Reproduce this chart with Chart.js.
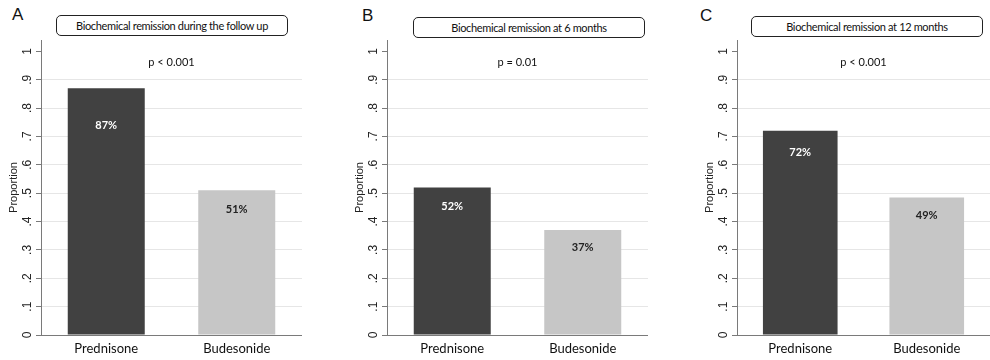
<!DOCTYPE html>
<html>
<head>
<meta charset="utf-8">
<script src="https://cdn.jsdelivr.net/npm/chart.js@4.4.1/dist/chart.umd.min.js"></script>
<style>
  html, body { margin: 0; padding: 0; background: #fff; }
  #wrap { position: relative; width: 990px; height: 360px; overflow: hidden; }
  .letter { position: absolute; font-family: "Liberation Sans", Arial, sans-serif; font-size: 17px; line-height: 17px; color: #111; }
  .tbox { position: absolute; height: 21px; border: 1px solid #222; border-radius: 5px; box-sizing: border-box;
          font-family: Lato, "Open Sans", sans-serif; font-size: 11px; letter-spacing: -0.35px; line-height: 19px; text-align: center; color: #111; background: #fff; }
  .cv { position: absolute; top: 40px; height: 320px; }
</style>
</head>
<body>
<div id="wrap">
  <div class="letter" id="L0" style="left:12px;top:6px"></div>
  <div class="letter" id="L1" style="left:362px;top:7px"></div>
  <div class="letter" id="L2" style="left:700px;top:7px"></div>
  <div class="tbox" id="T0" style="left:56px;top:15px;width:232px"></div>
  <div class="tbox" id="T1" style="left:413px;top:17px;width:232px"></div>
  <div class="tbox" id="T2" style="left:751px;top:16px;width:232px"></div>
  <div class="cv" style="left:0px;width:302px"><canvas id="c0"></canvas></div>
  <div class="cv" style="left:346px;width:302px"><canvas id="c1"></canvas></div>
  <div class="cv" style="left:696px;width:294px"><canvas id="c2"></canvas></div>
</div>
<script>
// ---- data ----
const categories = ['Prednisone', 'Budesonide'];
const panelLetters = ['A', 'B', 'C'];
const panelTitles = [
  'Biochemical remission during the follow up',
  'Biochemical remission at 6 months',
  'Biochemical remission at 12 months'
];
const pValues = ['p < 0.001', 'p = 0.01', 'p < 0.001'];
const remissionFollowUp = [0.87, 0.51];
const remission6Months = [0.52, 0.37];
const remission12Months = [0.72, 0.485];
const labelsFollowUp = ['87%', '51%'];
const labels6Months = ['52%', '37%'];
const labels12Months = ['72%', '49%'];
const yTickValues = [0, 0.1, 0.2, 0.3, 0.4, 0.5, 0.6, 0.7, 0.8, 0.9, 1];
const yTickLabels = ['0', '.1', '.2', '.3', '.4', '.5', '.6', '.7', '.8', '.9', '1'];
const yAxisTitle = 'Proportion';

const panelValues = [remissionFollowUp, remission6Months, remission12Months];
const panelLabels = [labelsFollowUp, labels6Months, labels12Months];

// ---- styles ----
const barColors = ['#414141', '#c6c6c6'];
const labelColors = ['#ffffff', '#222222'];
const labelOffsets = [[37, 19], [19, 17], [22, 18]];
const gridColor = '#e6e6e6';
const axisColor = '#7a7a7a';

const annotatePlugin = {
  id: 'annotate',
  afterDatasetsDraw(chart, args, opts) {
    const ctx = chart.ctx;
    const meta = chart.getDatasetMeta(0);
    ctx.save();
    ctx.textAlign = 'center';
    ctx.textBaseline = 'middle';
    ctx.font = 'bold 11px Lato, "Open Sans", sans-serif';
    meta.data.forEach((bar, i) => {
      ctx.fillStyle = labelColors[i];
      ctx.fillText(opts.labels[i], bar.x, bar.y + opts.offsets[i]);
    });
    ctx.font = '11px Lato, "Open Sans", sans-serif';
    ctx.fillStyle = '#111';
    const px = (meta.data[0].x + meta.data[1].x) / 2;
    ctx.fillText(opts.pText, px, chart.scales.y.getPixelForValue(0.96));
    ctx.restore();
  }
};

panelLetters.forEach((l, i) => { document.getElementById('L' + i).textContent = l; });
panelTitles.forEach((t, i) => { document.getElementById('T' + i).textContent = t; });

panelValues.forEach((vals, p) => {
  new Chart(document.getElementById('c' + p), {
    type: 'bar',
    data: {
      labels: categories,
      datasets: [{
        data: vals,
        backgroundColor: barColors,
        borderWidth: 0,
        categoryPercentage: 1,
        barPercentage: 0.59
      }]
    },
    plugins: [annotatePlugin],
    options: {
      responsive: true,
      maintainAspectRatio: false,
      animation: false,
      layout: { padding: 0 },
      plugins: {
        legend: { display: false },
        tooltip: { enabled: false },
        annotate: { labels: panelLabels[p], offsets: labelOffsets[p], pText: pValues[p] }
      },
      scales: {
        x: {
          grid: { display: false, drawTicks: false },
          border: { display: true, color: axisColor, width: 1 },
          ticks: { padding: 6, color: '#111', font: { family: 'Lato, "Open Sans", sans-serif', size: 13 } },
          afterFit(s) { s.height = 25; }
        },
        y: {
          min: 0,
          max: 1.04,
          afterBuildTicks(s) { s.ticks = yTickValues.map(v => ({ value: v })); },
          grid: {
            color: c => (c.tick && (c.tick.value === 0 || c.tick.value === 1)) ? 'rgba(0,0,0,0)' : gridColor,
            tickColor: axisColor,
            tickLength: 5,
            lineWidth: 1
          },
          border: { display: true, color: axisColor, width: 1 },
          ticks: {
            minRotation: 90,
            maxRotation: 90,
            crossAlign: 'center',
            padding: 3,
            color: '#222',
            font: { family: '"Liberation Sans", Arial, sans-serif', size: 12 },
            callback: (v, i) => yTickLabels[i]
          },
          title: {
            display: true,
            text: yAxisTitle,
            color: '#222',
            font: { family: '"Liberation Sans", Arial, sans-serif', size: 11 },
            padding: { top: 7, bottom: 0 }
          },
          afterFit(s) { s.width = 41; s.paddingTop = 0; s.paddingBottom = 0; }
        }
      }
    }
  });
});
</script>
</body>
</html>
